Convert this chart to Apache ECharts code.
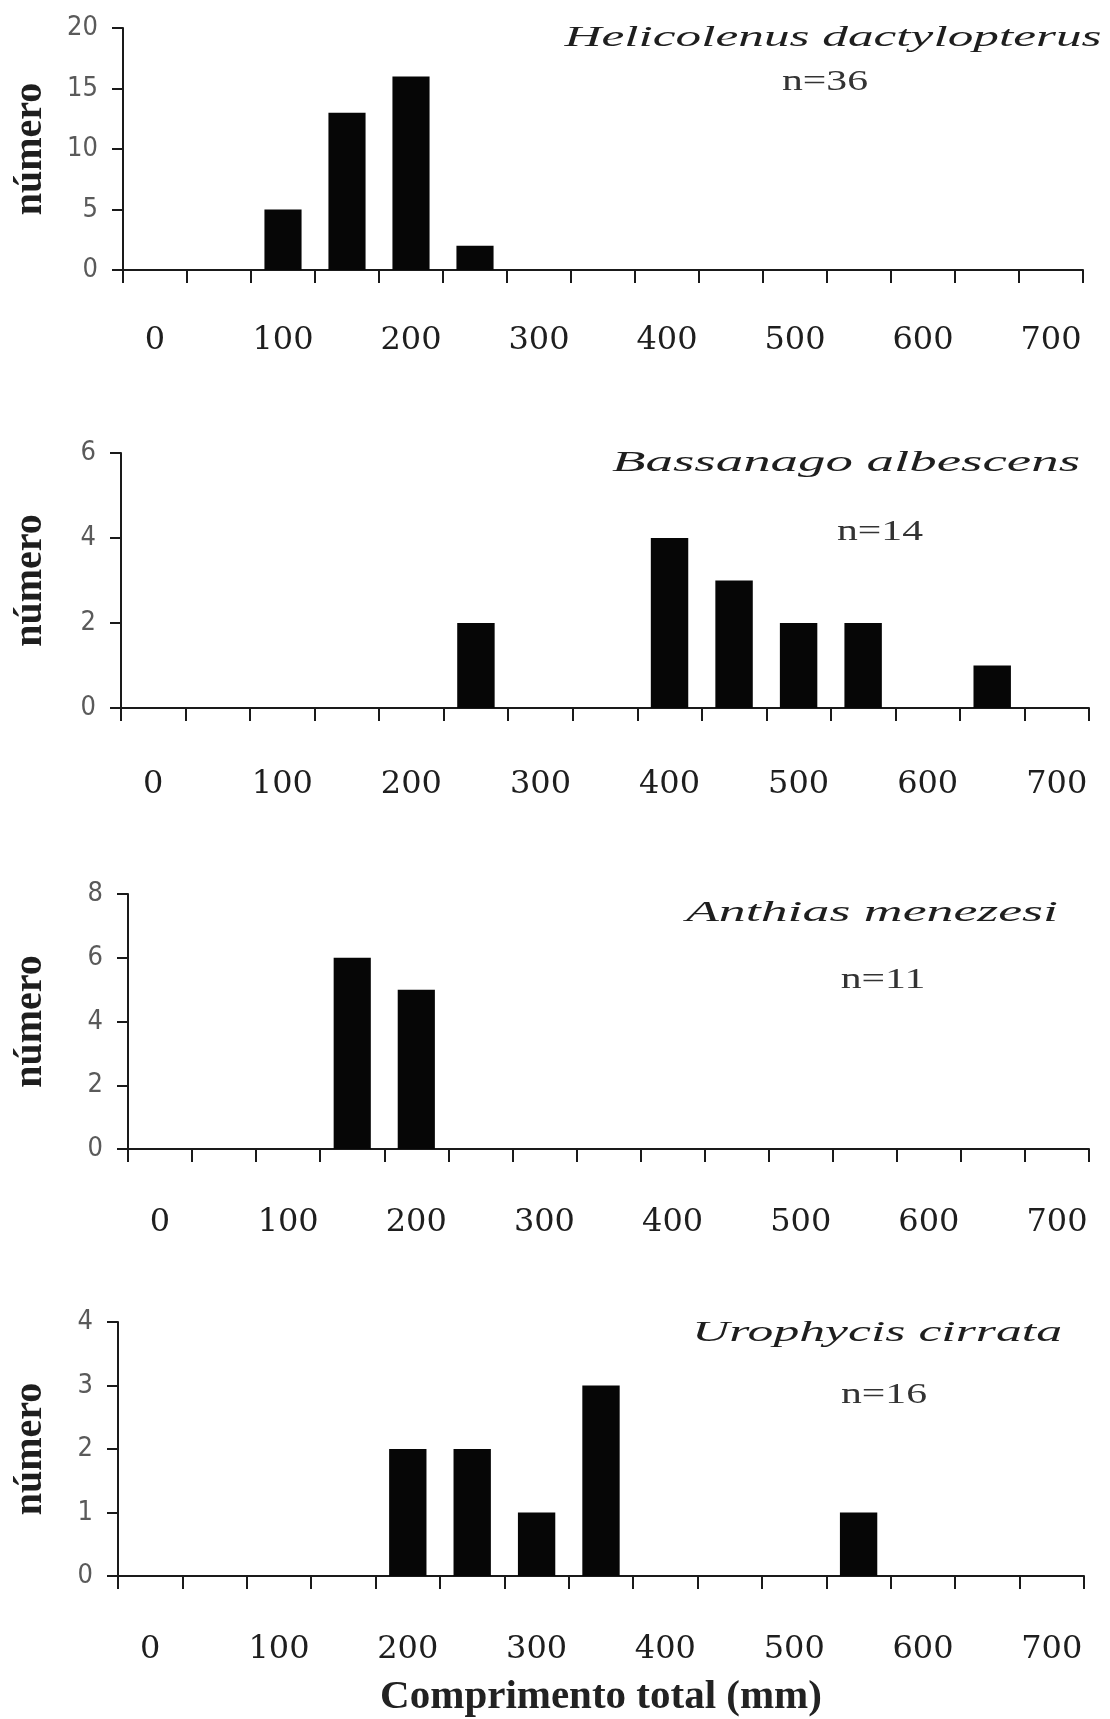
<!DOCTYPE html>
<html>
<head>
<meta charset="utf-8">
<script src="https://cdn.jsdelivr.net/npm/echarts@6.0.0/dist/echarts.min.js"></script>
<style>
  html, body { margin: 0; padding: 0; background: #fff; }
  #chart { width: 1110px; height: 1719px; }
</style>
</head>
<body>
<div id="chart"></div>
<script>
// length classes (mm), every 50
const lengthClasses = ['0', '50', '100', '150', '200', '250', '300', '350', '400', '450', '500', '550', '600', '650', '700'];

// counts per class
const helicolenusCounts = [0, 0, 5, 13, 16, 2, 0, 0, 0, 0, 0, 0, 0, 0, 0];
const bassanagoCounts   = [0, 0, 0, 0, 0, 2, 0, 0, 4, 3, 2, 2, 0, 1, 0];
const anthiasCounts     = [0, 0, 0, 6, 5, 0, 0, 0, 0, 0, 0, 0, 0, 0, 0];
const urophycisCounts   = [0, 0, 0, 0, 2, 2, 1, 3, 0, 0, 0, 1, 0, 0, 0];

const speciesNames = ['Helicolenus dactylopterus', 'Bassanago albescens', 'Anthias menezesi', 'Urophycis cirrata'];
const sampleSizes = ['n=36', 'n=14', 'n=11', 'n=16'];
const yMaxima = [20, 6, 8, 4];
const yIntervals = [5, 2, 2, 1];
const yName = 'número';
const xName = 'Comprimento total (mm)';

// panel placement in the page
const layout = [
  { left: 123, right: 1083, top: 28,   bottom: 270,  labelMargin: 55, title: [833, 38,  537], n: [825, 82] },
  { left: 121, right: 1089, top: 453,  bottom: 708,  labelMargin: 61, title: [846, 463, 468], n: [880, 532] },
  { left: 128, right: 1089, top: 894,  bottom: 1149, labelMargin: 58, title: [872, 913, 372], n: [883, 980] },
  { left: 118, right: 1084, top: 1322, bottom: 1577, labelMargin: 58, title: [877, 1333, 370], n: [884, 1395] }
];
const allCounts = [helicolenusCounts, bassanagoCounts, anthiasCounts, urophycisCounts];

const measureCtx = document.createElement('canvas').getContext('2d');
const textWidth = (text, font) => { measureCtx.font = font; return measureCtx.measureText(text).width; };

const titleFont = 'italic 30px "Liberation Serif", "Times New Roman", serif';
const nFont = '29px "Liberation Serif", "Times New Roman", serif';
const nScale = 86 / textWidth('n=36', nFont);

const axisColor = '#1a1a1a';

const grids = [], xAxes = [], yAxes = [], series = [], graphics = [];

layout.forEach((p, i) => {
  grids.push({ left: p.left, top: p.top, width: p.right - p.left, height: p.bottom - p.top, containLabel: false });

  xAxes.push({
    type: 'category',
    gridIndex: i,
    data: lengthClasses,
    boundaryGap: true,
    axisLine: { show: true, lineStyle: { color: axisColor, width: 2 } },
    axisTick: { show: true, interval: 0, length: 13, lineStyle: { color: axisColor, width: 2 } },
    axisLabel: {
      interval: 1,
      margin: p.labelMargin,
      fontFamily: '"DejaVu Serif", serif',
      fontSize: 32,
      color: '#1e1e1e'
    },
    splitLine: { show: false },
    name: i === 3 ? xName : '',
    nameLocation: 'middle',
    nameGap: 101,
    nameTextStyle: { fontFamily: '"Liberation Serif", serif', fontWeight: 'bold', fontSize: 41, color: '#222' }
  });

  yAxes.push({
    type: 'value',
    gridIndex: i,
    min: 0,
    max: yMaxima[i],
    interval: yIntervals[i],
    axisLine: { show: true, lineStyle: { color: axisColor, width: 2 } },
    axisTick: { show: true, length: 11, lineStyle: { color: axisColor, width: 2 } },
    axisLabel: {
      margin: 25,
      fontFamily: '"DejaVu Sans Condensed", "Liberation Sans Narrow", "DejaVu Sans", sans-serif',
      fontSize: 27,
      color: '#5a5a5a'
    },
    splitLine: { show: false },
    name: yName,
    nameLocation: 'middle',
    nameRotate: 90,
    nameGap: p.left - 31 - 20,
    nameTextStyle: { fontFamily: '"Liberation Serif", serif', fontWeight: 'bold', fontSize: 40, color: '#1e1e1e' }
  });

  series.push({
    type: 'bar',
    xAxisIndex: i,
    yAxisIndex: i,
    data: allCounts[i],
    barWidth: '58%',
    itemStyle: { color: '#060606' },
    silent: true
  });

  const tScale = p.title[2] / textWidth(speciesNames[i], titleFont);
  graphics.push({
    type: 'text',
    x: p.title[0], y: p.title[1],
    scaleX: tScale,
    style: {
      text: speciesNames[i], font: titleFont, fill: '#1e1e1e',
      align: 'center', verticalAlign: 'middle', textAlign: 'center', textVerticalAlign: 'middle'
    }
  });
  graphics.push({
    type: 'text',
    x: p.n[0], y: p.n[1],
    scaleX: nScale,
    style: {
      text: sampleSizes[i], font: nFont, fill: '#333',
      align: 'center', verticalAlign: 'middle', textAlign: 'center', textVerticalAlign: 'middle'
    }
  });
});

const chart = echarts.init(document.getElementById('chart'), null, { renderer: 'canvas' });
chart.setOption({
  animation: false,
  backgroundColor: '#ffffff',
  grid: grids,
  xAxis: xAxes,
  yAxis: yAxes,
  series: series,
  graphic: graphics
});
</script>
</body>
</html>
